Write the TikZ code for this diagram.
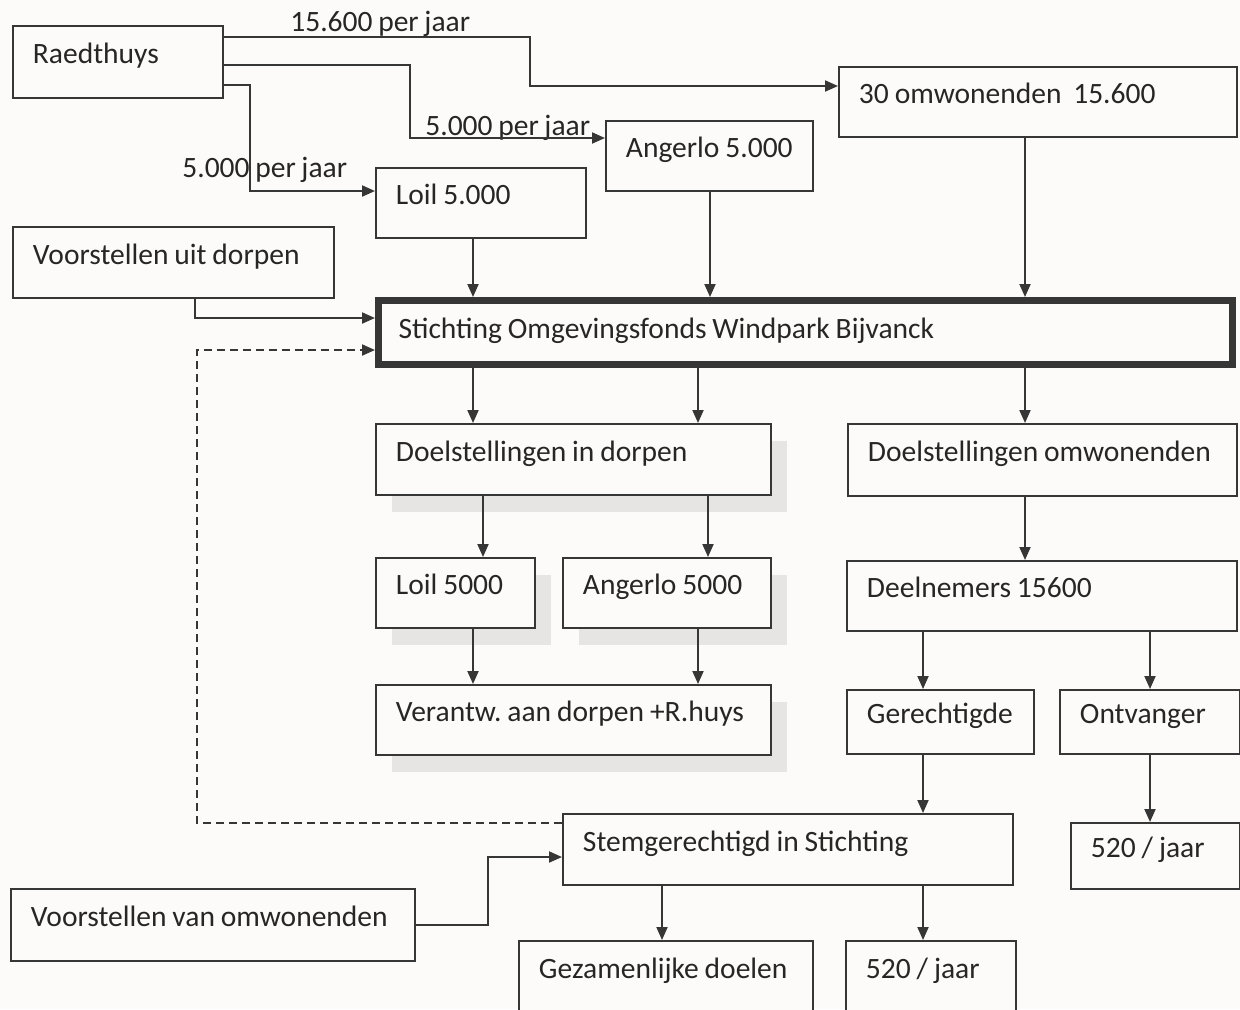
\documentclass[tikz,border=0pt]{standalone}
\usepackage{fontspec}
\setmainfont{Carlito}[WordSpace=0.85]
\usetikzlibrary{arrows.meta,shadows}
\definecolor{bgc}{HTML}{FDFBF9}
\definecolor{linec}{HTML}{363636}
\definecolor{txtc}{HTML}{262626}
\newcommand{\dfont}{\fontsize{16.8pt}{20pt}\selectfont}
\newcommand{\tightsp}{\spaceskip=0.2em\relax\xspaceskip=0.2em\relax}
\hfuzz=60pt
\hbadness=10000
\frenchspacing
\begin{document}
\begin{tikzpicture}[x=0.02cm,y=-0.02cm,
  bx/.style 2 args={draw=linec, line width=1.1pt, fill=bgc, rectangle, anchor=north west,
    inner xsep=0.4cm, inner ysep=0pt, text width={(#1-40)*0.02cm}, minimum height={#2*0.02cm},
    align=left, text height=13pt, text depth=11pt, font=\dfont, text=txtc,
    execute at begin node=\tightsp},
  shd/.style={drop shadow={shadow xshift=0.32cm, shadow yshift=-0.34cm, fill=black!18, draw=none}},
  arr/.style={draw=linec, line width=1.1pt, -{Triangle[length=0.26cm,width=0.22cm]}},
  lbl/.style={anchor=base west, inner sep=0pt, font=\dfont, text=txtc}
]
\useasboundingbox (0,0) rectangle (1240,1009);
\fill[bgc] (0,0) rectangle (1240,1009);

% boxes
\node[bx={210}{72}] (R) at (12,25) {\mbox{Raedthuys}};
\node[bx={398}{70}] (O30) at (838,66) {\mbox{30 omwonenden\ \ 15.600}};
\node[bx={207}{70}] (Ang) at (605,120) {\mbox{Angerlo 5.000}};
\node[bx={210}{70}] (Loil) at (375,167) {\mbox{Loil 5.000}};
\node[bx={321}{71}] (VD) at (12,226) {\mbox{Voorstellen uit dorpen}};
\node[bx={854}{64}, line width=4pt, text height=15.4pt, text depth=8.6pt] (St) at (375,297) {\mbox{Stichting Omgevingsfonds Windpark Bijvanck}};
\node[bx={395}{71}, shd] (DD) at (375,423) {\mbox{Doelstellingen in dorpen}};
\node[bx={389}{72}] (DO) at (847,423) {\mbox{Doelstellingen omwonenden}};
\node[bx={159}{70}, shd] (L5) at (375,557) {\mbox{Loil 5000}};
\node[bx={208}{70}, shd] (A5) at (562,557) {\mbox{Angerlo 5000}};
\node[bx={395}{70}, shd] (V) at (375,684) {\mbox{Verantw. aan dorpen +R.huys}};
\node[bx={390}{70}] (Deel) at (846,560) {\mbox{Deelnemers 15600}};
\node[bx={187}{64}] (Ger) at (846,689) {\mbox{Gerechtigde}};
\node[bx={180}{64}] (Ont) at (1059,689) {\mbox{Ontvanger}};
\node[bx={450}{71}] (SG) at (562,813) {\mbox{Stemgerechtigd in Stichting}};
\node[bx={169}{66}] (J1) at (1070,822) {\mbox{520 / jaar}};
\node[bx={404}{72}] (VO) at (10,888) {\mbox{Voorstellen van omwonenden}};
\node[bx={294}{72}] (Gez) at (518,940) {\mbox{Gezamenlijke doelen}};
\node[bx={170}{72}] (J2) at (845,940) {\mbox{520 / jaar}};

% labels
\node[lbl] (l1) at (290,31) {15.600 per jaar};
\node[lbl] (l2) at (425,135) {5.000 per jaar};
\node[lbl] (l3) at (182,177) {5.000 per jaar};

% connectors
\draw[arr] (R.east |- 0,37) -| (530,86) -- (O30.west |- 0,86);
\draw[arr] (R.east |- 0,65) -| (410,138) -- (Ang.west |- 0,138);
\draw[arr] (R.east |- 0,85) -| (250,191) -- (Loil.west |- 0,191);
\draw[arr] (VD.south -| 195,0) |- (St.west |- 0,318);
\draw[arr] (Loil.south -| 473,0) -- (St.north -| 473,0);
\draw[arr] (Ang.south -| 710,0) -- (St.north -| 710,0);
\draw[arr] (O30.south -| 1025,0) -- (St.north -| 1025,0);
\draw[arr, dash pattern=on 0.16cm off 0.1cm] (SG.west |- 0,823) -| (197,350) -- (St.west |- 0,350);
\draw[arr] (St.south -| 473,0) -- (DD.north -| 473,0);
\draw[arr] (St.south -| 698,0) -- (DD.north -| 698,0);
\draw[arr] (St.south -| 1025,0) -- (DO.north -| 1025,0);
\draw[arr] (DD.south -| 483,0) -- (L5.north -| 483,0);
\draw[arr] (DD.south -| 708,0) -- (A5.north -| 708,0);
\draw[arr] (L5.south -| 473,0) -- (V.north -| 473,0);
\draw[arr] (A5.south -| 698,0) -- (V.north -| 698,0);
\draw[arr] (DO.south -| 1025,0) -- (Deel.north -| 1025,0);
\draw[arr] (Deel.south -| 923,0) -- (Ger.north -| 923,0);
\draw[arr] (Deel.south -| 1150,0) -- (Ont.north -| 1150,0);
\draw[arr] (Ger.south -| 923,0) -- (SG.north -| 923,0);
\draw[arr] (Ont.south -| 1150,0) -- (J1.north -| 1150,0);
\draw[arr] (VO.east |- 0,925) -| (488,857) -- (SG.west |- 0,857);
\draw[arr] (SG.south -| 662,0) -- (Gez.north -| 662,0);
\draw[arr] (SG.south -| 923,0) -- (J2.north -| 923,0);
\end{tikzpicture}
\end{document}
